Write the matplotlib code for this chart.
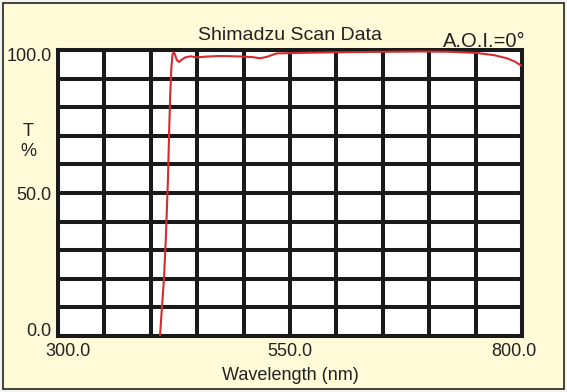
import matplotlib
matplotlib.use("Agg")
import matplotlib.pyplot as plt
import matplotlib.transforms as mtransforms
from matplotlib.patches import Rectangle

# scan data (wavelength nm, transmission %)
wavelength = [409.9, 412.0, 414.2, 416.3, 418.5, 419.8, 421.0, 422.2, 423.5, 424.7,
              426.0, 428.0, 430.5, 433.0, 437.0, 443.0, 450.0, 460.0, 474.5, 490.0,
              499.0, 510.0, 517.7, 525.0, 535.6, 550.0, 560.0, 580.0, 600.0, 630.0,
              660.0, 690.0, 720.0, 750.0, 770.0, 783.7, 792.0, 800.0]
transmission = [0.0, 10.0, 20.0, 35.0, 55.0, 72.0, 85.0, 94.0, 98.5, 99.2,
                98.5, 96.5, 95.8, 96.5, 97.4, 97.8, 97.4, 97.7, 97.9, 97.8,
                97.7, 97.5, 97.1, 97.6, 98.8, 98.9, 99.0, 99.1, 99.2, 99.3,
                99.4, 99.5, 99.4, 99.0, 98.2, 97.1, 96.0, 94.4]

x_ticks = [300, 550, 800]
x_tick_labels = ["300.0", "550.0", "800.0"]
y_ticks = [0, 50, 100]
y_tick_labels = ["0.0", "50.0", "100.0"]

plt.rcParams["font.family"] = ["Liberation Sans", "DejaVu Sans"]
text_color = "#222222"
cream = "#FFFAD8"

fig = plt.figure(figsize=(5.67, 3.92), dpi=100)
fig.patch.set_facecolor("#F3F3EC")
fig.add_artist(Rectangle((3 / 567, 3 / 392), 561 / 567, 386 / 392,
                         transform=fig.transFigure, facecolor=cream,
                         edgecolor="#222222", linewidth=1.2, zorder=-10))

ax = fig.add_axes([58 / 567, 56 / 392, 464 / 567, 286 / 392])
ax.set_zorder(1)
ax.set_facecolor("white")
ax.set_xlim(300, 800)
ax.set_ylim(0, 100)

ax.set_xticks(range(300, 801, 50), minor=True)
ax.set_yticks(range(0, 101, 10), minor=True)
ax.set_xticks(x_ticks, x_tick_labels)
ax.set_yticks(y_ticks, y_tick_labels)
ax.grid(which="both", color="#1a1a1a", linewidth=2.9)
ax.set_axisbelow(True)
for s in ax.spines.values():
    s.set_linewidth(2.9)
    s.set_color("#1a1a1a")

ax.tick_params(which="both", length=0)
ax.tick_params(axis="x", pad=5, labelsize=13, labelcolor=text_color)
ax.tick_params(axis="y", pad=4.5, labelsize=13, labelcolor=text_color)

ax.plot(wavelength, transmission, color="#D42A30", linewidth=1.5, zorder=3,
        solid_capstyle="butt")

# nudge end labels like the original
def nudge(label, dx, dy):
    label.set_transform(label.get_transform() +
                        mtransforms.ScaledTranslation(dx / 100, dy / 100, fig.dpi_scale_trans))

xl = ax.get_xticklabels()
nudge(xl[0], 10, 0)
nudge(xl[2], -8, 0)
yl = ax.get_yticklabels()
nudge(yl[0], 0, 6)
nudge(yl[2], 0, -4)

ax.set_xlabel("Wavelength (nm)", fontsize=13, color=text_color, labelpad=5)
ax.set_ylabel("T\n%", rotation=0, fontsize=13, color=text_color,
              ha="center", va="center", linespacing=1.3)
ax.yaxis.set_label_coords(-0.064, 0.68)

ax.text(0.5, 1.052, "Shimadzu Scan Data", transform=ax.transAxes,
        ha="center", va="center", fontsize=14, color=text_color)
ax.text(0.918, 1.03, "A.O.I.=0°", transform=ax.transAxes,
        ha="center", va="center", fontsize=14.5, color=text_color)

fig.savefig("out.png", dpi=100, facecolor=fig.get_facecolor())
